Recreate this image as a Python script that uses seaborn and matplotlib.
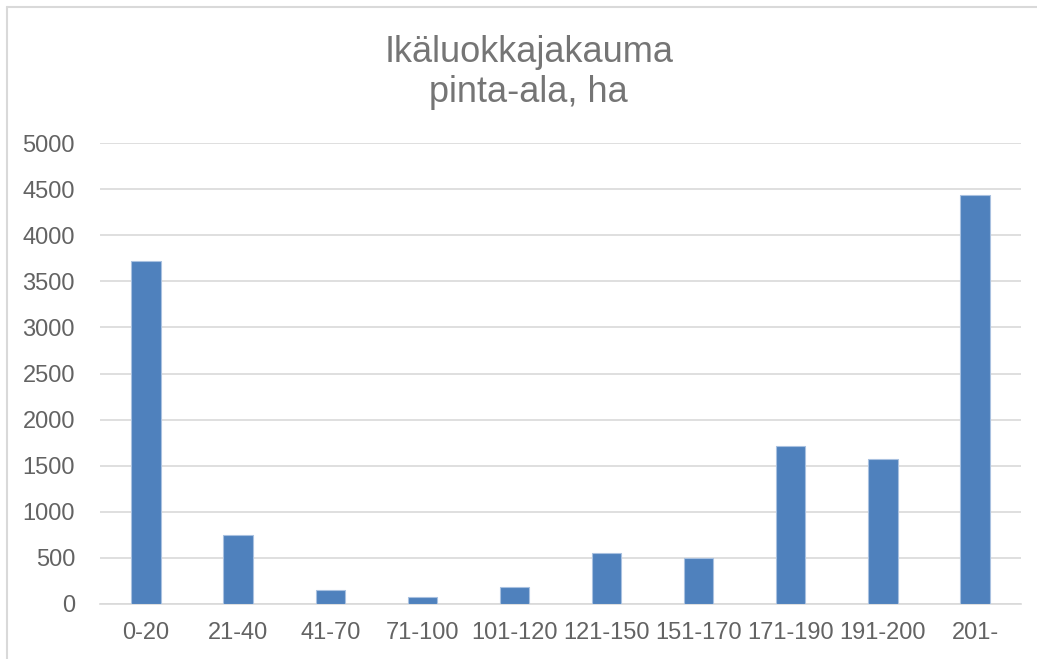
import matplotlib
matplotlib.use("Agg")
import matplotlib.pyplot as plt
import seaborn as sns
import pandas as pd

# Ikäluokkajakauma (pinta-ala, ha)
luokat = ["0-20", "21-40", "41-70", "71-100", "101-120", "121-150",
          "151-170", "171-190", "191-200", "201-"]
pinta_ala = [3720, 751, 152, 79, 184, 553, 500, 1714, 1577, 4441]

df = pd.DataFrame({"Ikäluokka": luokat, "Pinta-ala": pinta_ala})

sns.set_theme(style="white")
plt.rcParams["font.family"] = ["Liberation Sans", "DejaVu Sans"]

harmaa = "#636363"
otsikko_vari = "#757575"
ruudukko = "#D9D9D9"

fig = plt.figure(figsize=(10.37, 6.59), dpi=100)
ax = fig.add_axes([100 / 1037, 55 / 659, 921 / 1037, 461 / 659])

sns.barplot(data=df, x="Ikäluokka", y="Pinta-ala", color="#4F81BD",
            width=0.32, saturation=1, edgecolor="#A9C1E0", linewidth=0.8,
            ax=ax, zorder=3)

ax.set_ylim(0, 5000)
ax.set_yticks(range(0, 5001, 500))
ax.set_xlim(-0.5, len(luokat) - 0.5)
ax.yaxis.grid(True, color=ruudukko, linewidth=1.2, zorder=0)
ax.set_xlabel("")
ax.set_ylabel("")
for s in ["top", "right", "left"]:
    ax.spines[s].set_visible(False)
ax.spines["bottom"].set_color(ruudukko)
ax.spines["bottom"].set_linewidth(1.2)
ax.tick_params(axis="both", length=0, labelsize=17, labelcolor=harmaa)
ax.tick_params(axis="y", pad=18)
ax.tick_params(axis="x", pad=13)

fig.text(0.51, 1 - 62 / 659, "Ikäluokkajakauma", ha="center", va="baseline",
         fontsize=26, color=otsikko_vari)
fig.text(0.51, 1 - 102 / 659, "pinta-ala, ha", ha="center", va="baseline",
         fontsize=26, color=otsikko_vari)

# kaavion reunaviiva
fig.add_artist(plt.Line2D([7 / 1037, 1], [1 - 6.5 / 659, 1 - 6.5 / 659],
                          color=ruudukko, linewidth=1.5))
fig.add_artist(plt.Line2D([7 / 1037, 7 / 1037], [0, 1 - 6.5 / 659],
                          color=ruudukko, linewidth=1.5))

fig.savefig("out.png", dpi=100)
